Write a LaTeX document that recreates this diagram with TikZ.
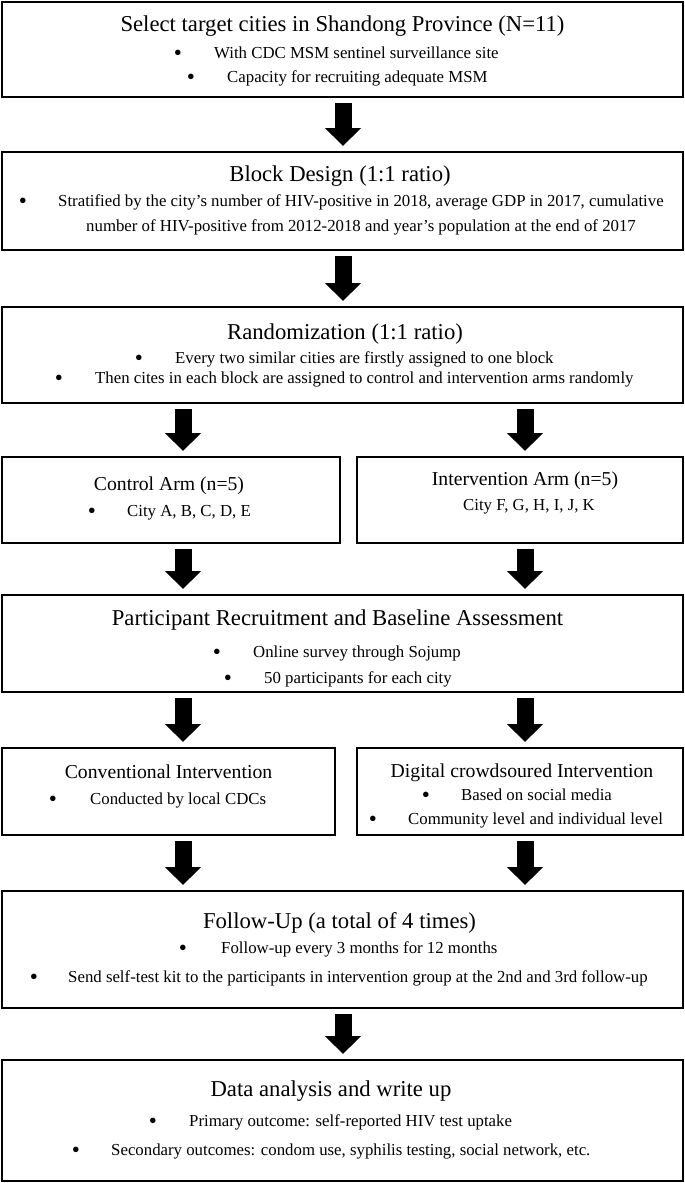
\documentclass[tikz,border=0pt]{standalone}
\usepackage{fontspec}
\setmainfont{Liberation Serif}
\usetikzlibrary{arrows.meta}

\tikzset{
    box/.style={draw, line width=2pt, inner sep=0pt},
    ttl/.style={anchor=base, inner sep=0pt, font=\fontsize{#1}{#1}\selectfont},
    body/.style={anchor=base west, inner sep=0pt, font=\fontsize{16.8}{20}\selectfont},
    dot/.style={anchor=base, inner sep=0pt, font=\fontsize{23}{23}\selectfont},
    fat/.style={line width=17pt, -{Triangle[width=35pt, length=18pt]}, shorten <=5pt, shorten >=5pt},
}

\begin{document}
\begin{tikzpicture}[x=1pt, y=-1pt]
        \useasboundingbox (0, 0) rectangle (685, 1183);
        % boxes
        \foreach \n/\x/\y/\w/\h in {sel/342.5/49.5/681/95, blk/342.5/201/681/98,
                rnd/342.5/355/681/96, ctl/171/500/338/86, itv/520/500/326/86,
                rec/342.5/643.5/681/97, con/168.5/791.5/333/87, dig/520/791.5/326/87,
                fol/342.5/949.5/681/117, dat/342.5/1120.5/681/121} {
                \node[box, minimum width=\w, minimum height=\h] (\n) at (\x, \y) {};
            }
        % titles (y = baseline)
        \foreach \n/\x/\y/\f/\t in {sel/342.5/31/22.7/{Select target cities in Shandong Province (N=11)},
                blk/340/181.5/22.7/{Block Design (1:1 ratio)},
                rnd/345/339/22.7/{Randomization (1:1 ratio)},
                ctl/169/490/19.7/{Control Arm (n=5)},
                itv/525/485/19.7/{Intervention Arm (n=5)},
                rec/337.5/625/22.7/{Participant Recruitment and Baseline Assessment},
                con/168.5/778.5/19.7/{Conventional Intervention},
                dig/522/777/19.7/{Digital crowdsoured Intervention},
                fol/339.5/928/22.7/{Follow-Up (a total of 4 times)},
                dat/331/1096.5/22.7/{Data analysis and write up}} {
                \node[ttl=\f] (\n-t) at (\x, \y) {\t};
            }
        % bullet lines (y = baseline)
        \foreach \n/\bx/\tx/\y/\t in {sel-1/178/214/58.3/{With CDC MSM sentinel surveillance site},
                sel-2/191/227/82.3/{Capacity for recruiting adequate MSM},
                blk-1/23/58/206.5/{Stratified by the city’s number of HIV-positive in 2018, average GDP in 2017, cumulative},
                rnd-1/139/175/363.5/{Every two similar cities are firstly assigned to one block},
                rnd-2/59/95/383.5/{Then cites in each block are assigned to control and intervention arms randomly},
                ctl-1/92/127/516.5/{City A, B, C, D, E},
                rec-1/217/253/657.5/{Online survey through Sojump},
                rec-2/228/264/683.5/{50 participants for each city},
                con-1/53/90/804/{Conducted by local CDCs},
                dig-1/426/461/800.5/{Based on social media},
                dig-2/373/408/824/{Community level and individual level},
                fol-1/183/221/953.5/{Follow-up every 3 months for 12 months},
                fol-2/34/68/982/{Send self-test kit to the participants in intervention group at the 2nd and 3rd follow-up},
                dat-1/153/189/1126.7/{Primary outcome: self-reported HIV test uptake},
                dat-2/76/111/1155/{Secondary outcomes: condom use, syphilis testing, social network, etc.}} {
                \node[dot] (\n-dot) at (\bx, \y + 2) {\textbullet};
                \node[body] (\n) at (\tx, \y) {\t};
            }
        \node[body] (blk-2) at (86, 231.5) {number of HIV-positive from 2012-2018 and year’s population at the end of 2017};
        \node[body, anchor=base] (itv-1) at (529, 510) {City F, G, H, I, J, K};
        % arrows
        \coordinate (lx) at (183, 0);
        \coordinate (mx) at (343, 0);
        \coordinate (rx) at (525, 0);
        \foreach \a/\b/\c in {sel/blk/mx, blk/rnd/mx, rnd/ctl/lx, rnd/itv/rx, ctl/rec/lx, itv/rec/rx,
                rec/con/lx, rec/dig/rx, con/fol/lx, dig/fol/rx, fol/dat/mx} {
                \draw[fat] (\a.south -| \c) -- (\b.north -| \c);
            }
    \end{tikzpicture}
\end{document}
